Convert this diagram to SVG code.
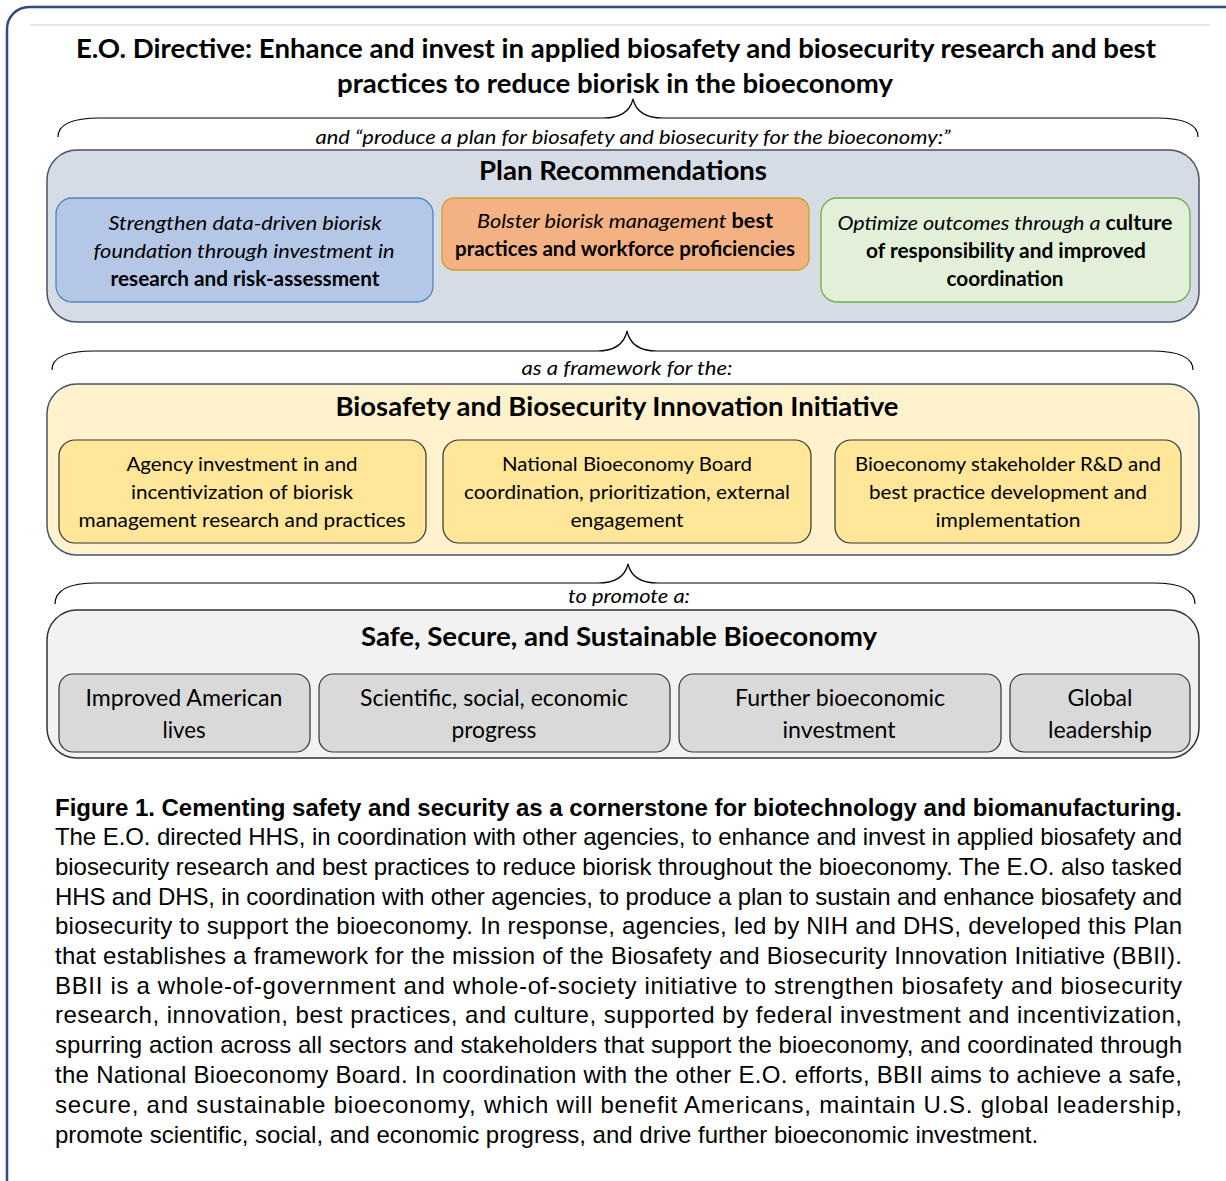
<svg xmlns="http://www.w3.org/2000/svg" width="1226" height="1181" viewBox="0 0 1226 1181">
<style>
.c{font-family:Lato,"Open Sans","Liberation Sans",sans-serif;fill:#000;text-anchor:middle}
.b{font-weight:bold}
.i{font-style:italic}
.t{font-size:26px;font-weight:bold}
.s{font-size:20px}
.g{font-size:22.5px}
.cap{font-family:"Liberation Sans",Arial,sans-serif;font-size:24px;fill:#000}
.brace{fill:none;stroke:#000;stroke-width:1.2}
</style>
<rect x="7" y="7" width="1240" height="1200" rx="22" fill="#fff" stroke="#2f4b7c" stroke-width="2.5"/>
<line x1="30" y1="25" x2="1210" y2="25" stroke="#d0d0d0" stroke-width="1.2"/>

<g id="title">
<text class="c t" x="616" y="58" textLength="1080" lengthAdjust="spacingAndGlyphs">E.O. Directive: Enhance and invest in applied biosafety and biosecurity research and best</text>
<text class="c t" x="615" y="93" textLength="556" lengthAdjust="spacingAndGlyphs">practices to reduce biorisk in the bioeconomy</text>
</g>

<g id="connectors">
<path class="brace" d="M58 137 C58 126 68 118 100 118 L603 118 C620 118 630 112 633 99 C636 112 646 118 663 118 L1156 118 C1188 118 1198 126 1198 137"/>
<text class="c s i" x="633" y="144" textLength="635" lengthAdjust="spacingAndGlyphs">and “produce a plan for biosafety and biosecurity for the bioeconomy:”</text>
<path class="brace" d="M52 370 C52 359 62 351 94 351 L597 351 C614 351 624 345 627 331 C630 345 640 351 657 351 L1151 351 C1183 351 1193 359 1193 370"/>
<text class="c s i" x="627" y="375" textLength="211" lengthAdjust="spacingAndGlyphs">as a framework for the:</text>
<path class="brace" d="M55 604 C55 592 65 583 97 583 L598 583 C615 583 625 577 628 564 C631 577 641 583 658 583 L1153 583 C1185 583 1195 592 1195 604"/>
<text class="c s i" x="629" y="603" textLength="122" lengthAdjust="spacingAndGlyphs">to promote a:</text>
</g>

<g id="plan">
<rect x="47" y="150" width="1152" height="172" rx="30" fill="#d6dce5" stroke="#44546a" stroke-width="1.5"/>
<text class="c t" x="623" y="180" textLength="288" lengthAdjust="spacingAndGlyphs">Plan Recommendations</text>
</g>
<g id="rec1">
<rect x="56" y="198" width="377" height="104" rx="16" fill="#b4c7e7" stroke="#4f86c6" stroke-width="1.3"/>
<text class="c s i" x="245" y="230" textLength="273" lengthAdjust="spacingAndGlyphs">Strengthen data-driven biorisk</text>
<text class="c s i" x="244" y="258" textLength="301" lengthAdjust="spacingAndGlyphs">foundation through investment in</text>
<text class="c s b" x="245" y="286" textLength="269" lengthAdjust="spacingAndGlyphs">research and risk-assessment</text>
</g>
<g id="rec2">
<rect x="442" y="198" width="367" height="72" rx="12" fill="#f4b183" stroke="#c9a227" stroke-width="1.3"/>
<text class="c s" x="625" y="228" textLength="296" lengthAdjust="spacingAndGlyphs"><tspan class="i">Bolster biorisk management </tspan><tspan class="b">best</tspan></text>
<text class="c s b" x="625" y="256" textLength="340" lengthAdjust="spacingAndGlyphs">practices and workforce proficiencies</text>
</g>
<g id="rec3">
<rect x="821" y="198" width="369" height="104" rx="16" fill="#e2f0d9" stroke="#70ad47" stroke-width="1.3"/>
<text class="c s" x="1005" y="230" textLength="335" lengthAdjust="spacingAndGlyphs"><tspan class="i">Optimize outcomes through a </tspan><tspan class="b">culture</tspan></text>
<text class="c s b" x="1006" y="258" textLength="280" lengthAdjust="spacingAndGlyphs">of responsibility and improved</text>
<text class="c s b" x="1005" y="286" textLength="117" lengthAdjust="spacingAndGlyphs">coordination</text>
</g>

<g id="bbii">
<rect x="47" y="384" width="1152" height="171" rx="30" fill="#fff2cc" stroke="#44546a" stroke-width="1.5"/>
<text class="c t" x="617" y="416" textLength="563" lengthAdjust="spacingAndGlyphs">Biosafety and Biosecurity Innovation Initiative</text>
</g>
<g id="bbii1">
<rect x="59" y="440" width="367" height="103" rx="16" fill="#ffe699" stroke="#333" stroke-width="1.2"/>
<text class="c s" x="242" y="471" textLength="231" lengthAdjust="spacingAndGlyphs">Agency investment in and</text>
<text class="c s" x="242" y="499" textLength="222" lengthAdjust="spacingAndGlyphs">incentivization of biorisk</text>
<text class="c s" x="242" y="527" textLength="327" lengthAdjust="spacingAndGlyphs">management research and practices</text>
</g>
<g id="bbii2">
<rect x="443" y="440" width="368" height="103" rx="16" fill="#ffe699" stroke="#333" stroke-width="1.2"/>
<text class="c s" x="627" y="471" textLength="250" lengthAdjust="spacingAndGlyphs">National Bioeconomy Board</text>
<text class="c s" x="627" y="499" textLength="326" lengthAdjust="spacingAndGlyphs">coordination, prioritization, external</text>
<text class="c s" x="627" y="527" textLength="113" lengthAdjust="spacingAndGlyphs">engagement</text>
</g>
<g id="bbii3">
<rect x="835" y="440" width="346" height="103" rx="16" fill="#ffe699" stroke="#333" stroke-width="1.2"/>
<text class="c s" x="1008" y="471" textLength="306" lengthAdjust="spacingAndGlyphs">Bioeconomy stakeholder R&amp;D and</text>
<text class="c s" x="1008" y="499" textLength="278" lengthAdjust="spacingAndGlyphs">best practice development and</text>
<text class="c s" x="1008" y="527" textLength="145" lengthAdjust="spacingAndGlyphs">implementation</text>
</g>

<g id="bioeconomy">
<rect x="47" y="610" width="1152" height="148" rx="30" fill="#f2f2f2" stroke="#333" stroke-width="1.5"/>
<text class="c t" x="619" y="646" textLength="516" lengthAdjust="spacingAndGlyphs">Safe, Secure, and Sustainable Bioeconomy</text>
</g>
<g id="out1">
<rect x="59" y="674" width="251" height="78" rx="14" fill="#d9d9d9" stroke="#333" stroke-width="1.2"/>
<text class="c g" x="184" y="706" textLength="197" lengthAdjust="spacingAndGlyphs">Improved American</text>
<text class="c g" x="184" y="738" textLength="43" lengthAdjust="spacingAndGlyphs">lives</text>
</g>
<g id="out2">
<rect x="319" y="674" width="351" height="78" rx="14" fill="#d9d9d9" stroke="#333" stroke-width="1.2"/>
<text class="c g" x="494" y="706" textLength="268" lengthAdjust="spacingAndGlyphs">Scientific, social, economic</text>
<text class="c g" x="494" y="738" textLength="85" lengthAdjust="spacingAndGlyphs">progress</text>
</g>
<g id="out3">
<rect x="679" y="674" width="322" height="78" rx="14" fill="#d9d9d9" stroke="#333" stroke-width="1.2"/>
<text class="c g" x="840" y="706" textLength="210" lengthAdjust="spacingAndGlyphs">Further bioeconomic</text>
<text class="c g" x="839" y="738" textLength="113" lengthAdjust="spacingAndGlyphs">investment</text>
</g>
<g id="out4">
<rect x="1010" y="674" width="180" height="78" rx="14" fill="#d9d9d9" stroke="#333" stroke-width="1.2"/>
<text class="c g" x="1100" y="706" textLength="65" lengthAdjust="spacingAndGlyphs">Global</text>
<text class="c g" x="1100" y="738" textLength="104" lengthAdjust="spacingAndGlyphs">leadership</text>
</g>

<g id="caption">
<text class="cap" x="55" y="816" font-weight="bold" textLength="1127" lengthAdjust="spacing">Figure 1. Cementing safety and security as a cornerstone for biotechnology and biomanufacturing.</text>
<text class="cap" x="55" y="845" textLength="1127" lengthAdjust="spacing">The E.O. directed HHS, in coordination with other agencies, to enhance and invest in applied biosafety and</text>
<text class="cap" x="55" y="875" textLength="1127" lengthAdjust="spacing">biosecurity research and best practices to reduce biorisk throughout the bioeconomy. The E.O. also tasked</text>
<text class="cap" x="55" y="905" textLength="1127" lengthAdjust="spacing">HHS and DHS, in coordination with other agencies, to produce a plan to sustain and enhance biosafety and</text>
<text class="cap" x="55" y="934" textLength="1127" lengthAdjust="spacing">biosecurity to support the bioeconomy. In response, agencies, led by NIH and DHS, developed this Plan</text>
<text class="cap" x="55" y="964" textLength="1127" lengthAdjust="spacing">that establishes a framework for the mission of the Biosafety and Biosecurity Innovation Initiative (BBII).</text>
<text class="cap" x="55" y="994" textLength="1127" lengthAdjust="spacing">BBII is a whole-of-government and whole-of-society initiative to strengthen biosafety and biosecurity</text>
<text class="cap" x="55" y="1023" textLength="1127" lengthAdjust="spacing">research, innovation, best practices, and culture, supported by federal investment and incentivization,</text>
<text class="cap" x="55" y="1053" textLength="1127" lengthAdjust="spacing">spurring action across all sectors and stakeholders that support the bioeconomy, and coordinated through</text>
<text class="cap" x="55" y="1083" textLength="1127" lengthAdjust="spacing">the National Bioeconomy Board. In coordination with the other E.O. efforts, BBII aims to achieve a safe,</text>
<text class="cap" x="55" y="1113" textLength="1127" lengthAdjust="spacing">secure, and sustainable bioeconomy, which will benefit Americans, maintain U.S. global leadership,</text>
<text class="cap" x="55" y="1143">promote scientific, social, and economic progress, and drive further bioeconomic investment.</text>
</g>
</svg>
